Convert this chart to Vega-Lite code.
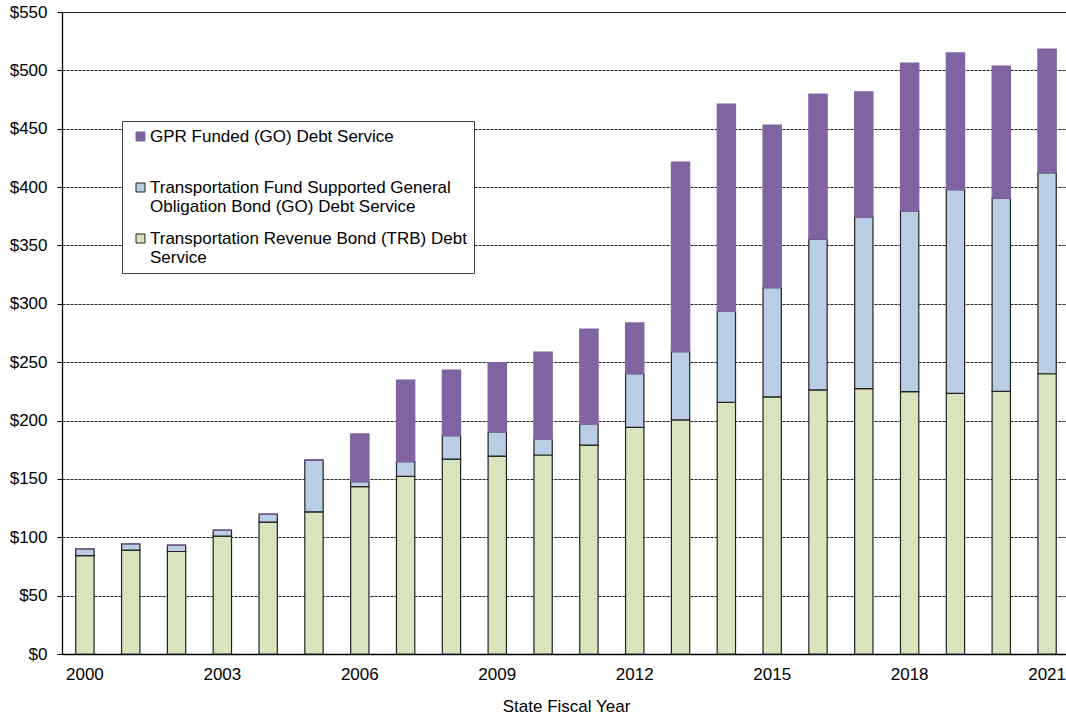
{
  "$schema": "https://vega.github.io/schema/vega-lite/v6.json",
  "width": 1004,
  "height": 642,
  "autosize": {"type": "none"},
  "padding": {"left": 62, "top": 12, "right": 0, "bottom": 65},
  "background": "white",
  "config": {"view": {"stroke": null}, "font": "Liberation Sans"},
  "data": {"values": [
    {"year": 2000, "series": "Transportation Revenue Bond (TRB) Debt Service", "value": 84.2},
    {"year": 2000, "series": "Transportation Fund Supported General Obligation Bond (GO) Debt Service", "value": 5.9},
    {"year": 2000, "series": "GPR Funded (GO) Debt Service", "value": 0},
    {"year": 2001, "series": "Transportation Revenue Bond (TRB) Debt Service", "value": 89.0},
    {"year": 2001, "series": "Transportation Fund Supported General Obligation Bond (GO) Debt Service", "value": 5.4},
    {"year": 2001, "series": "GPR Funded (GO) Debt Service", "value": 0},
    {"year": 2002, "series": "Transportation Revenue Bond (TRB) Debt Service", "value": 87.8},
    {"year": 2002, "series": "Transportation Fund Supported General Obligation Bond (GO) Debt Service", "value": 5.5},
    {"year": 2002, "series": "GPR Funded (GO) Debt Service", "value": 0},
    {"year": 2003, "series": "Transportation Revenue Bond (TRB) Debt Service", "value": 101.0},
    {"year": 2003, "series": "Transportation Fund Supported General Obligation Bond (GO) Debt Service", "value": 5.1},
    {"year": 2003, "series": "GPR Funded (GO) Debt Service", "value": 0},
    {"year": 2004, "series": "Transportation Revenue Bond (TRB) Debt Service", "value": 113.0},
    {"year": 2004, "series": "Transportation Fund Supported General Obligation Bond (GO) Debt Service", "value": 6.8},
    {"year": 2004, "series": "GPR Funded (GO) Debt Service", "value": 0},
    {"year": 2005, "series": "Transportation Revenue Bond (TRB) Debt Service", "value": 121.8},
    {"year": 2005, "series": "Transportation Fund Supported General Obligation Bond (GO) Debt Service", "value": 44.3},
    {"year": 2005, "series": "GPR Funded (GO) Debt Service", "value": 0.5},
    {"year": 2006, "series": "Transportation Revenue Bond (TRB) Debt Service", "value": 143.4},
    {"year": 2006, "series": "Transportation Fund Supported General Obligation Bond (GO) Debt Service", "value": 4.2},
    {"year": 2006, "series": "GPR Funded (GO) Debt Service", "value": 41.0},
    {"year": 2007, "series": "Transportation Revenue Bond (TRB) Debt Service", "value": 152.2},
    {"year": 2007, "series": "Transportation Fund Supported General Obligation Bond (GO) Debt Service", "value": 12.6},
    {"year": 2007, "series": "GPR Funded (GO) Debt Service", "value": 69.9},
    {"year": 2008, "series": "Transportation Revenue Bond (TRB) Debt Service", "value": 167.0},
    {"year": 2008, "series": "Transportation Fund Supported General Obligation Bond (GO) Debt Service", "value": 20.0},
    {"year": 2008, "series": "GPR Funded (GO) Debt Service", "value": 56.3},
    {"year": 2009, "series": "Transportation Revenue Bond (TRB) Debt Service", "value": 169.6},
    {"year": 2009, "series": "Transportation Fund Supported General Obligation Bond (GO) Debt Service", "value": 20.6},
    {"year": 2009, "series": "GPR Funded (GO) Debt Service", "value": 59.4},
    {"year": 2010, "series": "Transportation Revenue Bond (TRB) Debt Service", "value": 170.5},
    {"year": 2010, "series": "Transportation Fund Supported General Obligation Bond (GO) Debt Service", "value": 13.4},
    {"year": 2010, "series": "GPR Funded (GO) Debt Service", "value": 74.8},
    {"year": 2011, "series": "Transportation Revenue Bond (TRB) Debt Service", "value": 179.0},
    {"year": 2011, "series": "Transportation Fund Supported General Obligation Bond (GO) Debt Service", "value": 17.8},
    {"year": 2011, "series": "GPR Funded (GO) Debt Service", "value": 81.6},
    {"year": 2012, "series": "Transportation Revenue Bond (TRB) Debt Service", "value": 194.2},
    {"year": 2012, "series": "Transportation Fund Supported General Obligation Bond (GO) Debt Service", "value": 45.9},
    {"year": 2012, "series": "GPR Funded (GO) Debt Service", "value": 43.5},
    {"year": 2013, "series": "Transportation Revenue Bond (TRB) Debt Service", "value": 200.5},
    {"year": 2013, "series": "Transportation Fund Supported General Obligation Bond (GO) Debt Service", "value": 58.5},
    {"year": 2013, "series": "GPR Funded (GO) Debt Service", "value": 162.5},
    {"year": 2014, "series": "Transportation Revenue Bond (TRB) Debt Service", "value": 215.6},
    {"year": 2014, "series": "Transportation Fund Supported General Obligation Bond (GO) Debt Service", "value": 78.0},
    {"year": 2014, "series": "GPR Funded (GO) Debt Service", "value": 177.6},
    {"year": 2015, "series": "Transportation Revenue Bond (TRB) Debt Service", "value": 220.2},
    {"year": 2015, "series": "Transportation Fund Supported General Obligation Bond (GO) Debt Service", "value": 93.6},
    {"year": 2015, "series": "GPR Funded (GO) Debt Service", "value": 139.4},
    {"year": 2016, "series": "Transportation Revenue Bond (TRB) Debt Service", "value": 226.2},
    {"year": 2016, "series": "Transportation Fund Supported General Obligation Bond (GO) Debt Service", "value": 129.3},
    {"year": 2016, "series": "GPR Funded (GO) Debt Service", "value": 124.2},
    {"year": 2017, "series": "Transportation Revenue Bond (TRB) Debt Service", "value": 227.3},
    {"year": 2017, "series": "Transportation Fund Supported General Obligation Bond (GO) Debt Service", "value": 147.1},
    {"year": 2017, "series": "GPR Funded (GO) Debt Service", "value": 107.1},
    {"year": 2018, "series": "Transportation Revenue Bond (TRB) Debt Service", "value": 224.7},
    {"year": 2018, "series": "Transportation Fund Supported General Obligation Bond (GO) Debt Service", "value": 154.8},
    {"year": 2018, "series": "GPR Funded (GO) Debt Service", "value": 126.8},
    {"year": 2019, "series": "Transportation Revenue Bond (TRB) Debt Service", "value": 223.3},
    {"year": 2019, "series": "Transportation Fund Supported General Obligation Bond (GO) Debt Service", "value": 174.5},
    {"year": 2019, "series": "GPR Funded (GO) Debt Service", "value": 117.1},
    {"year": 2020, "series": "Transportation Revenue Bond (TRB) Debt Service", "value": 225.0},
    {"year": 2020, "series": "Transportation Fund Supported General Obligation Bond (GO) Debt Service", "value": 165.6},
    {"year": 2020, "series": "GPR Funded (GO) Debt Service", "value": 113.1},
    {"year": 2021, "series": "Transportation Revenue Bond (TRB) Debt Service", "value": 240.1},
    {"year": 2021, "series": "Transportation Fund Supported General Obligation Bond (GO) Debt Service", "value": 172.0},
    {"year": 2021, "series": "GPR Funded (GO) Debt Service", "value": 106.2}
  ]},
  "transform": [
    {"calculate": "indexof(['Transportation Revenue Bond (TRB) Debt Service','Transportation Fund Supported General Obligation Bond (GO) Debt Service','GPR Funded (GO) Debt Service'], datum.series)", "as": "stackOrder"}
  ],
  "mark": {"type": "bar", "strokeWidth": 1.2},
  "encoding": {
    "x": {
      "field": "year", "type": "ordinal",
      "scale": {"range": [0, 1008], "paddingInner": 0.6, "paddingOuter": 0.3},
      "axis": {
        "values": [2000, 2003, 2006, 2009, 2012, 2015, 2018, 2021],
        "ticks": false, "labelAngle": 0, "labelFontSize": 17, "labelColor": "#000",
        "labelPadding": 12, "domainColor": "#000", "domainWidth": 1.3,
        "title": "State Fiscal Year", "titleFontSize": 17, "titleFontWeight": "normal",
        "titleColor": "#000", "titlePadding": 16, "grid": false
      }
    },
    "y": {
      "field": "value", "type": "quantitative", "stack": "zero",
      "scale": {"domain": [0, 550], "nice": false},
      "axis": {
        "values": [0, 50, 100, 150, 200, 250, 300, 350, 400, 450, 500, 550],
        "format": "$.0f", "labelFontSize": 17, "labelColor": "#000", "labelPadding": 10,
        "tickSize": 5, "tickColor": "#000", "domainColor": "#000", "domainWidth": 1.3,
        "grid": true, "gridColor": "#222", "gridWidth": 1,
        "gridDash": {"condition": {"test": "datum.value == 550", "value": []}, "value": [3, 1]},
        "title": null
      }
    },
    "color": {
      "field": "series", "type": "nominal",
      "scale": {
        "domain": ["GPR Funded (GO) Debt Service", "Transportation Fund Supported General Obligation Bond (GO) Debt Service", "Transportation Revenue Bond (TRB) Debt Service"],
        "range": ["#8064A2", "#B9CDE5", "#D7E4BD"]
      },
      "legend": {
        "orient": "none", "legendX": 60, "legendY": 109, "title": null,
        "fillColor": "white", "strokeColor": "#444", "padding": 7, "symbolOffset": 3,
        "symbolType": "square", "symbolSize": 81, "symbolStrokeWidth": 1,
        "labelFontSize": 17, "labelColor": "#000", "labelLimit": 420, "labelOffset": 1,
        "rowPadding": 14,
        "labelExpr": "datum.label == 'GPR Funded (GO) Debt Service' ? ['GPR Funded (GO) Debt Service', ''] : datum.label == 'Transportation Revenue Bond (TRB) Debt Service' ? ['Transportation Revenue Bond (TRB) Debt', 'Service'] : ['Transportation Fund Supported General', 'Obligation Bond (GO) Debt Service']"
      }
    },
    "stroke": {
      "field": "series", "type": "nominal",
      "scale": {
        "domain": ["GPR Funded (GO) Debt Service", "Transportation Fund Supported General Obligation Bond (GO) Debt Service", "Transportation Revenue Bond (TRB) Debt Service"],
        "range": ["#8064A2", "#222222", "#222222"]
      },
      "legend": null
    },
    "order": {"field": "stackOrder", "type": "quantitative"}
  }
}
